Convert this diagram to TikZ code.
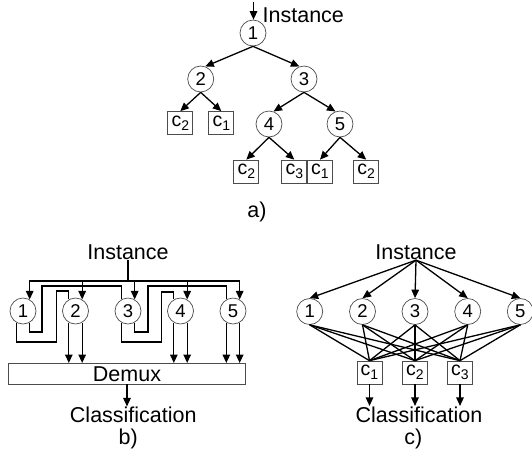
\documentclass[tikz,border=0pt]{standalone}
\usepackage{fontspec}
\setmainfont{Liberation Sans}
\usetikzlibrary{arrows.meta}
% leaf label with a lowered index
\newcommand{\csub}[1]{c\raisebox{-3.7pt}{\fontsize{14}{14}\selectfont #1}}

\begin{document}
\begin{tikzpicture}[x=1pt,y=-1pt,line width=1.3pt,
  >={Triangle[length=8.5pt,width=7.5pt]},
  every node/.style={inner sep=0pt,font=\fontsize{21.5}{24}\selectfont},
  cnode/.style={circle,draw=black!70,line width=.7pt,fill=white,minimum size=26pt,font=\fontsize{18.5}{20}\selectfont},
  cbox/.style={rectangle,draw=black!70,line width=.7pt,fill=white,minimum width=25pt,minimum height=23pt,font=\fontsize{19.5}{20}\selectfont}]
\useasboundingbox (0,0) rectangle (532,456);

% a) decision tree
\node[cnode] (a1) at (253,33) {1};
\node[cnode] (a2) at (200.7,79) {2};
\node[cnode] (a3) at (304,79) {3};
\node[cnode] (a4) at (269,124) {4};
\node[cnode] (a5) at (340,124) {5};
\node[cbox] (ka) at (180.3,123) {\csub{2}};
\node[cbox] (kb) at (221.3,123) {\csub{1}};
\node[cbox] (kc) at (246.3,171.5) {\csub{2}};
\node[cbox] (kd) at (294.3,171.5) {\csub{3}};
\node[cbox] (ke) at (320,171.5) {\csub{1}};
\node[cbox] (kf) at (366.2,171.5) {\csub{2}};
\node[anchor=west] (ainst) at (262,15) {Instance};
\coordinate (ain) at (253.5,2);
\draw[->] (ain) -- (ain |- a1.north);
\foreach \s/\t in {a1.south/a2.70,a1.south/a3.110,a2.south/ka.north,a2.south/kb.north,
  a3.south/a4.70,a3.south/a5.110,a4.south/kc.north,a4.south/kd.north,
  a5.south/ke.north,a5.south/kf.north}
  \draw[->] (\s) -- (\t);
\node (alab) at (257,212) {a)};

% b) all nodes in parallel, demux picks the leaf
\node (binst) at (128,252) {Instance};
\foreach \n/\x in {1/23,2/75.5,3/128,4/180.5,5/233}
  \node[cnode] (b\n) at (\x,311) {\n};
\node[rectangle,draw=black!70,line width=.7pt,minimum width=237pt,minimum height=20.7pt] (demux) at (127,373.7) {Demux};
\coordinate (bbus) at (128,281);
\draw (binst.south) -- (bbus);
\draw[->] (bbus) -| (b1.60);
\draw[->] (bbus) -| (b5.60);
\foreach \n in {2,3,4} \draw[->] (b\n.60 |- bbus) -- (b\n.60);
% select lines
\draw (b1.-120) |- (56.7,342) |- (b2.120 |- 0,291) -- (b2.120);
\draw (b1.-60) |- (42,332) |- (b3.120 |- 0,286) -- (b3.120);
\draw (b3.-120) |- (161.7,342) |- (b4.120 |- 0,292) -- (b4.120);
\draw (b3.-60) |- (148,332) |- (b5.120 |- 0,286) -- (b5.120);
\foreach \n in {2,4,5}{
  \draw[->] (b\n.-120) -- (b\n.-120 |- demux.north);
  \draw[->] (b\n.-60) -- (b\n.-60 |- demux.north);}
\node (bcls) at (133.3,415) {Classification};
\draw[->] (demux.south) -- (demux.south |- bcls.north);
\node (blab) at (128.3,438.5) {b)};

% c) every node votes into every class
\node (cinst) at (416,252) {Instance};
\foreach \n/\x in {1/309.7,2/362.5,3/415,4/467.7,5/520.3}
  \node[cnode] (c\n) at (\x,311.5) {\n};
\foreach \k/\x in {1/369.5,2/415,3/460}
  \node[cbox] (k\k) at (\x,372.5) {\csub{\k}};
\foreach \n in {1,...,5} \draw[->] (cinst.south) -- (c\n.north);
\foreach \n in {1,...,5}{\foreach \k in {1,2,3} \draw (c\n.south) -- (k\k.north);}
\node (ccls) at (419,414.5) {Classification};
\foreach \k in {1,2,3} \draw[->] (k\k.south) -- (k\k.south |- ccls.north);
\node (clab) at (413.3,438.5) {c)};
\end{tikzpicture}
\end{document}
